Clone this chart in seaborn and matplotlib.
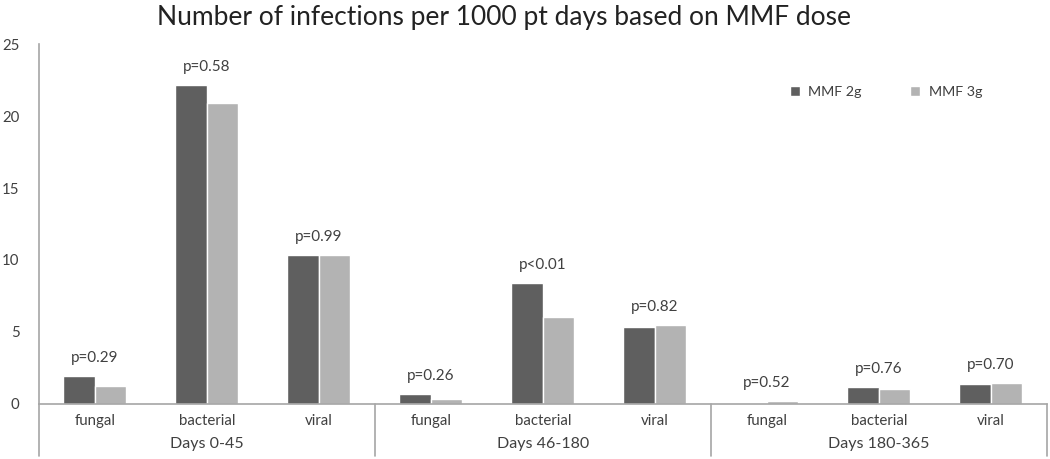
import matplotlib
matplotlib.use("Agg")
import matplotlib.pyplot as plt
import matplotlib.transforms as mtransforms
import numpy as np
import pandas as pd
import seaborn as sn

# values
periods = ["Days 0-45", "Days 46-180", "Days 180-365"]
infections = ["fungal", "bacterial", "viral"]
mmf_2g = [1.94, 22.15, 10.35, 0.69, 8.4, 5.37, 0.07, 1.16, 1.37]
mmf_3g = [1.25, 20.9, 10.35, 0.35, 6.04, 5.48, 0.19, 1.02, 1.44]
p_values = ["p=0.29", "p=0.58", "p=0.99", "p=0.26", "p<0.01", "p=0.82",
            "p=0.52", "p=0.76", "p=0.70"]

keys = [f"{p}|{i}" for p in periods for i in infections]
df = pd.DataFrame({
    "key": keys * 2,
    "rate": mmf_2g + mmf_3g,
    "dose": ["MMF 2g"] * len(keys) + ["MMF 3g"] * len(keys),
})

sn.set_style("white")
plt.rcParams["font.family"] = ["Lato", "DejaVu Sans"]

grey_line = "#a6a6a6"
text_col = "#404040"

fig = plt.figure(figsize=(10.5, 4.59), dpi=100)
ax = fig.add_axes([0.037, 0.120, 0.960, 0.784])

sn.barplot(data=df, x="key", y="rate", hue="dose", order=keys,
           palette=["#5f5f5f", "#b3b3b3"], width=0.56, gap=0,
           saturation=1, errorbar=None, ax=ax)

ax.set_ylim(0, 25)
ax.set_xlim(-0.5, len(keys) - 0.5)
ax.set_yticks(range(0, 26, 5))
ax.set_xticks(range(len(keys)))
ax.set_xticklabels([k.split("|")[1] for k in keys])
ax.tick_params(axis="both", length=0, labelsize=10.8, colors=text_col)
ax.tick_params(axis="y", pad=14)
ax.tick_params(axis="x", pad=7)
ax.set_xlabel("")
ax.set_ylabel("")

for side in ["top", "right"]:
    ax.spines[side].set_visible(False)
for side in ["left", "bottom"]:
    ax.spines[side].set_color(grey_line)
    ax.spines[side].set_linewidth(1.2)

# p-value labels above each pair
for i, p in enumerate(p_values):
    top = max(mmf_2g[i], mmf_3g[i])
    ax.annotate(p, (i, top), xytext=(0, 8), textcoords="offset points",
                ha="center", va="bottom", fontsize=11, color=text_col)

# group separators and period labels below the axis
trans = mtransforms.blended_transform_factory(ax.transData, ax.transAxes)
for b in [-0.5, 2.5, 5.5, 8.5]:
    ax.plot([b, b], [0, -0.145], transform=trans, color=grey_line,
            lw=1.2, clip_on=False)
for g, name in enumerate(periods):
    ax.text(g * 3 + 1, -0.112, name, transform=trans, ha="center",
            va="center", fontsize=11.5, color=text_col)

leg = ax.legend(loc="upper left", bbox_to_anchor=(0.732, 0.92), ncol=2,
                frameon=False, fontsize=10.3, handlelength=0.7,
                handleheight=0.7, handletextpad=0.6, columnspacing=3.4)
for t in leg.get_texts():
    t.set_color(text_col)

fig.text(0.48, 0.962, "Number of infections per 1000 pt days based on MMF dose",
         ha="center", va="center", fontsize=19, color="#222222")

fig.savefig("out.png", dpi=100)
